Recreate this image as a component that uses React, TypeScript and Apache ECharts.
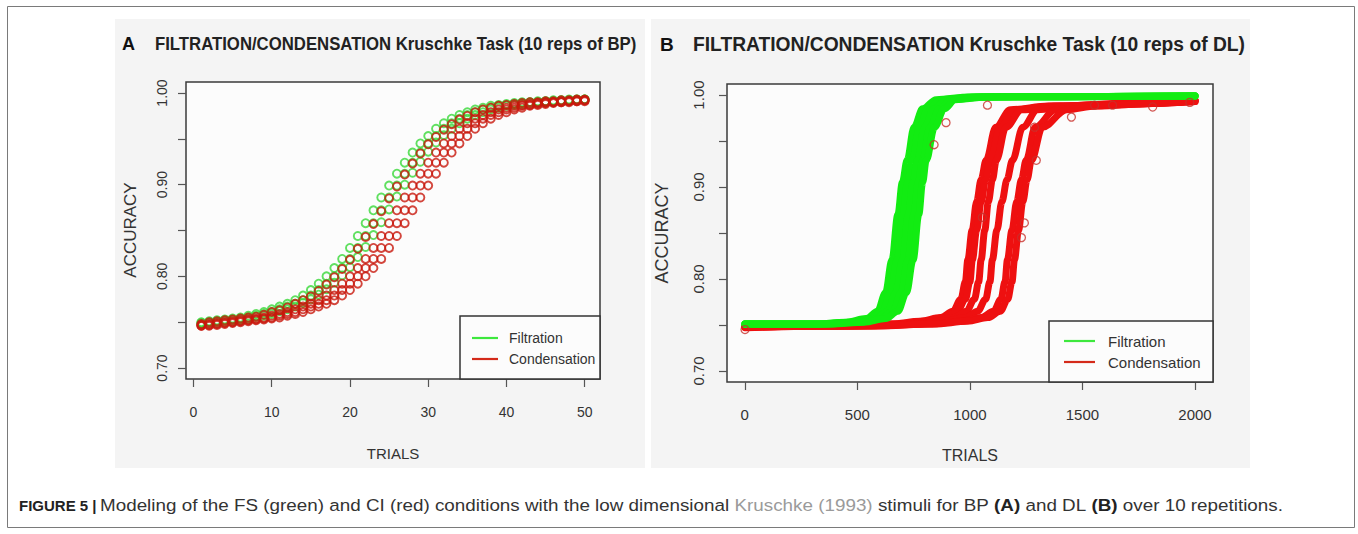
import React, { useEffect, useRef } from "react";
import * as echarts from "echarts";

// ---------- Panel A (BP): accuracy per trial, selected repetitions ----------
const filtrationA1 = [0.750,0.751,0.752,0.753,0.754,0.755,0.757,0.759,0.761,0.764,0.767,0.770,0.774,0.779,0.785,0.792,0.800,0.809,0.819,0.831,0.844,0.858,0.872,0.886,0.899,0.912,0.924,0.935,0.945,0.953,0.961,0.967,0.972,0.976,0.979,0.982,0.984,0.986,0.987,0.988,0.989,0.990,0.990,0.991,0.991,0.992,0.992,0.993,0.993,0.993];
const filtrationA2 = [0.749,0.750,0.751,0.752,0.753,0.754,0.755,0.757,0.759,0.761,0.764,0.767,0.770,0.774,0.779,0.785,0.792,0.800,0.809,0.819,0.831,0.844,0.858,0.872,0.886,0.899,0.912,0.924,0.935,0.945,0.953,0.961,0.967,0.972,0.976,0.979,0.982,0.984,0.986,0.987,0.988,0.989,0.990,0.990,0.991,0.991,0.992,0.992,0.993,0.993];
const filtrationA3 = [0.748,0.749,0.750,0.751,0.752,0.753,0.754,0.756,0.757,0.759,0.762,0.764,0.767,0.771,0.775,0.780,0.786,0.793,0.801,0.810,0.821,0.832,0.845,0.859,0.873,0.887,0.900,0.913,0.925,0.936,0.946,0.954,0.961,0.967,0.972,0.976,0.979,0.982,0.984,0.986,0.987,0.988,0.989,0.990,0.990,0.991,0.991,0.992,0.992,0.993];
const condensationA1 = [0.748,0.750,0.751,0.752,0.753,0.754,0.755,0.756,0.758,0.761,0.763,0.766,0.770,0.774,0.778,0.784,0.791,0.799,0.808,0.818,0.830,0.843,0.857,0.871,0.885,0.898,0.911,0.923,0.934,0.944,0.952,0.960,0.966,0.971,0.975,0.979,0.982,0.984,0.986,0.987,0.988,0.989,0.990,0.990,0.991,0.991,0.992,0.992,0.993,0.993];
const condensationA2 = [0.747,0.748,0.749,0.750,0.751,0.752,0.753,0.754,0.755,0.757,0.759,0.761,0.764,0.767,0.770,0.774,0.779,0.785,0.792,0.800,0.809,0.819,0.831,0.844,0.858,0.872,0.886,0.899,0.912,0.924,0.935,0.945,0.953,0.961,0.967,0.972,0.976,0.979,0.982,0.984,0.986,0.987,0.988,0.989,0.990,0.990,0.991,0.991,0.992,0.992];
const condensationA3 = [0.746,0.747,0.748,0.749,0.750,0.751,0.752,0.753,0.754,0.755,0.757,0.759,0.761,0.764,0.767,0.770,0.774,0.779,0.785,0.792,0.800,0.809,0.819,0.831,0.844,0.858,0.872,0.886,0.899,0.912,0.924,0.935,0.945,0.953,0.961,0.967,0.972,0.976,0.979,0.982,0.984,0.986,0.987,0.988,0.989,0.990,0.990,0.991,0.991,0.992];
const condensationA4 = [0.746,0.746,0.747,0.748,0.749,0.750,0.751,0.752,0.753,0.754,0.755,0.757,0.759,0.761,0.764,0.767,0.770,0.774,0.779,0.785,0.792,0.800,0.809,0.819,0.831,0.844,0.858,0.872,0.886,0.899,0.912,0.924,0.935,0.945,0.953,0.961,0.967,0.972,0.976,0.979,0.982,0.984,0.986,0.987,0.988,0.989,0.990,0.990,0.991,0.991];

// ---------- Panel B (DL): [trial, accuracy] points read along each repetition ----------
const filtrationB1 = [[1,0.751],[300,0.751],[450,0.753],[540,0.757],[590,0.765],[625,0.785],[654,0.821],[680,0.870],[700,0.905],[721,0.929],[752,0.965],[790,0.985],[850,0.995],[1000,0.998],[2000,0.999]];
const filtrationB2 = [[1,0.751],[320,0.751],[470,0.753],[560,0.757],[612,0.765],[648,0.785],[677,0.821],[703,0.870],[723,0.905],[744,0.929],[776,0.965],[815,0.985],[872,0.995],[1020,0.998],[2000,0.999]];
const filtrationB3 = [[1,0.751],[340,0.751],[490,0.753],[582,0.757],[635,0.765],[672,0.785],[701,0.821],[727,0.870],[747,0.905],[767,0.929],[799,0.965],[840,0.985],[896,0.995],[1040,0.998],[2000,0.999]];
const filtrationB4 = [[1,0.751],[360,0.751],[510,0.753],[604,0.757],[658,0.765],[695,0.785],[725,0.821],[751,0.870],[771,0.905],[790,0.929],[822,0.965],[865,0.985],[918,0.995],[1060,0.998],[2000,0.999]];
const filtrationB5 = [[1,0.751],[380,0.751],[530,0.753],[626,0.757],[680,0.765],[718,0.785],[748,0.821],[773,0.870],[790,0.905],[806,0.929],[843,0.965],[886,0.985],[935,0.995],[1080,0.998],[2000,0.999]];

const condensationB1 = [[1,0.747],[400,0.749],[650,0.751],[780,0.754],[870,0.758],[925,0.765],[960,0.778],[980,0.797],[991,0.821],[1010,0.853],[1030,0.884],[1050,0.908],[1072,0.929],[1115,0.965],[1180,0.984],[1350,0.988],[1650,0.990],[2000,0.993]];
const condensationB2 = [[1,0.748],[420,0.749],[670,0.751],[800,0.754],[890,0.758],[945,0.765],[980,0.778],[1000,0.797],[1011,0.821],[1030,0.853],[1050,0.884],[1070,0.908],[1090,0.929],[1135,0.965],[1200,0.984],[1370,0.988],[1670,0.990],[2000,0.993]];
const condensationB3 = [[1,0.748],[460,0.749],[710,0.751],[840,0.754],[930,0.758],[985,0.765],[1020,0.778],[1039,0.797],[1050,0.821],[1066,0.853],[1082,0.884],[1100,0.908],[1117,0.929],[1160,0.965],[1230,0.984],[1400,0.988],[1700,0.991],[2000,0.994]];
const condensationB4 = [[1,0.748],[500,0.749],[760,0.751],[890,0.754],[980,0.758],[1035,0.765],[1070,0.778],[1089,0.797],[1100,0.821],[1120,0.853],[1142,0.884],[1165,0.908],[1189,0.929],[1235,0.965],[1300,0.984],[1450,0.988],[1750,0.991],[2000,0.994]];
const condensationB5 = [[1,0.748],[560,0.749],[820,0.751],[960,0.754],[1050,0.758],[1105,0.765],[1138,0.778],[1156,0.797],[1167,0.821],[1187,0.853],[1208,0.884],[1229,0.908],[1250,0.929],[1290,0.965],[1380,0.984],[1520,0.988],[1800,0.991],[2000,0.994]];
const condensationB6 = [[1,0.748],[580,0.749],[840,0.751],[990,0.754],[1080,0.758],[1135,0.765],[1168,0.778],[1187,0.797],[1198,0.821],[1216,0.853],[1235,0.884],[1254,0.908],[1273,0.929],[1322,0.965],[1430,0.984],[1560,0.988],[1820,0.991],[2000,0.994]];
const condensationBOutliers = [[1,0.745],[1055,0.867],[1078,0.989],[894,0.970],[841,0.946],[1451,0.976],[1287,0.965],[1295,0.929],[1242,0.861],[1229,0.845],[1812,0.987],[1634,0.989],[1977,0.992],[1554,0.989]];

// ---------- Axis ticks ----------
const xTicksA = [0, 10, 20, 30, 40, 50];
const xTicksB = [0, 500, 1000, 1500, 2000];
const yTicks = [0.70, 0.75, 0.80, 0.85, 0.90, 0.95, 1.00];
const yLabels = [0.70, 0.80, 0.90, 1.00];

const FONT = '"Liberation Sans", Arial, sans-serif';
const GREEN_A = "#38d838";
const RED_A = "#c8180c";
const GREEN_B = "#12ec12";
const RED_B = "#ee1010";

export default function App() {
  const ref = useRef<HTMLDivElement>(null);

  useEffect(() => {
    if (!ref.current) return;
    const chart = echarts.init(ref.current, undefined, { renderer: "svg" });

    const scatterA = (name: string, arr: number[], color: string) => ({
      type: "scatter",
      name,
      xAxisIndex: 0,
      yAxisIndex: 0,
      data: arr.map((v, i) => [i + 1, v]),
      symbol: "circle",
      symbolSize: 8,
      itemStyle: { color: "rgba(0,0,0,0)", borderColor: color, borderWidth: 1.9 },
      z: 3,
    });
    const lineB = (name: string, pts: number[][], color: string) => ({
      type: "line",
      name,
      xAxisIndex: 1,
      yAxisIndex: 1,
      data: pts,
      showSymbol: false,
      symbol: "none",
      smooth: 0.35,
      smoothMonotone: "x",
      lineStyle: { color, width: 7, cap: "round", join: "round" },
      z: 3,
    });

    const xAxisCommon = (gridIndex: number, min: number, max: number, ticks: number[], fs: number, margin: number) => ({
      type: "value",
      gridIndex,
      min,
      max,
      splitLine: { show: false },
      axisLine: { show: false, onZero: false },
      axisTick: { show: true, length: 8, customValues: ticks, lineStyle: { color: "#555", width: 1.2 } },
      axisLabel: { customValues: ticks, margin, fontSize: fs, color: "#333", fontFamily: FONT, formatter: (v: number) => String(v) },
    });
    const yAxisCommon = (gridIndex: number, fs: number, margin: number) => ({
      type: "value",
      gridIndex,
      min: 0.688,
      max: 1.012,
      splitLine: { show: false },
      axisLine: { show: false, onZero: false },
      axisTick: { show: true, length: 8, customValues: yTicks, lineStyle: { color: "#555", width: 1.2 } },
      axisLabel: {
        customValues: yLabels,
        rotate: 90,
        margin,
        fontSize: fs,
        color: "#333",
        fontFamily: FONT,
        formatter: (v: number) => v.toFixed(2),
      },
    });

    const txt = (text: string, x: number, y: number, font: string, opts: any = {}) => ({
      type: "text",
      x,
      y,
      rotation: opts.rotation || 0,
      scaleX: opts.scaleX || 1,
      z: 10,
      style: {
        text,
        font,
        fill: opts.fill || "#333",
        textAlign: opts.align || "left",
        textVerticalAlign: "middle",
        ...(opts.rich ? { rich: opts.rich } : {}),
      },
    });

    const legend = (x0: number, y0: number, x1: number, y1: number, lx0: number, lx1: number, tx: number, y1e: number, y2e: number, fs: number) => [
      { type: "rect", shape: { x: x0, y: y0, width: x1 - x0, height: y1 - y0 }, style: { fill: "#fcfcfc", stroke: "#333", lineWidth: 1.5 }, z: 8 },
      { type: "line", shape: { x1: lx0, y1: y1e, x2: lx1, y2: y1e }, style: { stroke: "#3de83d", lineWidth: 2.2 }, z: 9 },
      { type: "line", shape: { x1: lx0, y1: y2e, x2: lx1, y2: y2e }, style: { stroke: "#d42a1a", lineWidth: 2.2 }, z: 9 },
      txt("Filtration", tx, y1e, `${fs}px ${FONT}`),
      txt("Condensation", tx, y2e, `${fs}px ${FONT}`),
    ];

    const option: any = {
      animation: false,
      backgroundColor: "#ffffff",
      grid: [
        { left: 186, top: 82, width: 414, height: 297, show: true, backgroundColor: "#fcfcfc", borderColor: "#3a3a3a", borderWidth: 1.5 },
        { left: 727, top: 84, width: 486, height: 298, show: true, backgroundColor: "#fcfcfc", borderColor: "#3a3a3a", borderWidth: 1.5 },
      ],
      xAxis: [
        xAxisCommon(0, -0.96, 51.96, xTicksA, 14, 26),
        xAxisCommon(1, -78.96, 2079.96, xTicksB, 15, 25),
      ],
      yAxis: [yAxisCommon(0, 14, 17), yAxisCommon(1, 15, 21)],
      series: [
        scatterA("Filtration", filtrationA1, GREEN_A),
        scatterA("Filtration", filtrationA2, GREEN_A),
        scatterA("Filtration", filtrationA3, GREEN_A),
        scatterA("Condensation", condensationA1, RED_A),
        scatterA("Condensation", condensationA2, RED_A),
        scatterA("Condensation", condensationA3, RED_A),
        scatterA("Condensation", condensationA4, RED_A),
        lineB("Condensation", condensationB1, RED_B),
        lineB("Condensation", condensationB2, RED_B),
        lineB("Condensation", condensationB3, RED_B),
        lineB("Condensation", condensationB4, RED_B),
        lineB("Condensation", condensationB5, RED_B),
        lineB("Condensation", condensationB6, RED_B),
        lineB("Filtration", filtrationB1, GREEN_B),
        lineB("Filtration", filtrationB2, GREEN_B),
        lineB("Filtration", filtrationB3, GREEN_B),
        lineB("Filtration", filtrationB4, GREEN_B),
        lineB("Filtration", filtrationB5, GREEN_B),
        {
          type: "scatter",
          name: "Condensation",
          xAxisIndex: 1,
          yAxisIndex: 1,
          data: condensationBOutliers,
          symbol: "circle",
          symbolSize: 8,
          itemStyle: { color: "rgba(0,0,0,0)", borderColor: "#c8302a", borderWidth: 1.3 },
          z: 4,
        },
      ],
      graphic: [
        { type: "rect", shape: { x: 7.5, y: 6.5, width: 1347, height: 521 }, style: { fill: "none", stroke: "#7a7a7a", lineWidth: 1 }, z: -10, silent: true },
        { type: "rect", shape: { x: 115, y: 19, width: 530, height: 449 }, style: { fill: "#f4f4f4" }, z: -9, silent: true },
        { type: "rect", shape: { x: 651, y: 19, width: 599, height: 449 }, style: { fill: "#f4f4f4" }, z: -9, silent: true },
        txt("A", 122, 44, `bold 18px ${FONT}`, { fill: "#111" }),
        txt("FILTRATION/CONDENSATION Kruschke Task (10 reps of BP)", 155, 44, `bold 18px ${FONT}`, { fill: "#222", scaleX: 0.93 }),
        txt("B", 660, 44, `bold 19px ${FONT}`, { fill: "#111" }),
        txt("FILTRATION/CONDENSATION Kruschke Task (10 reps of DL)", 693, 44, `bold 20px ${FONT}`, { fill: "#222", scaleX: 0.962 }),
        txt("ACCURACY", 130, 230, `17px ${FONT}`, { rotation: Math.PI / 2, align: "center" }),
        txt("TRIALS", 393, 453, `15px ${FONT}`, { align: "center" }),
        txt("ACCURACY", 662, 233, `18px ${FONT}`, { rotation: Math.PI / 2, align: "center" }),
        txt("TRIALS", 970, 455, `16px ${FONT}`, { align: "center" }),
        ...legend(460, 316, 600, 379, 472, 498, 509, 338, 359, 14),
        ...legend(1049, 321, 1213, 382, 1064, 1095, 1108, 341, 362, 15),
        txt("FIGURE 5 |", 19, 505, `bold 15px ${FONT}`, { fill: "#222" }),
        txt(
          "Modeling of the FS (green) and CI (red) conditions with the low dimensional {g|Kruschke (1993)} stimuli for BP {b|(A)} and DL {b|(B)} over 10 repetitions.",
          100,
          505,
          `17px ${FONT}`,
          {
            fill: "#333",
            scaleX: 1.108,
            rich: {
              b: { fontWeight: "bold", fontSize: 17, fontFamily: FONT, fill: "#222" },
              g: { fontSize: 17, fontFamily: FONT, fill: "#9a9a9a" },
            },
          }
        ),
      ],
    };

    chart.setOption(option);
    return () => chart.dispose();
  }, []);

  return (
    <div
      ref={ref}
      style={{ position: "fixed", left: 0, top: 0, width: 1358, height: 534, background: "#fff" }}
    />
  );
}
